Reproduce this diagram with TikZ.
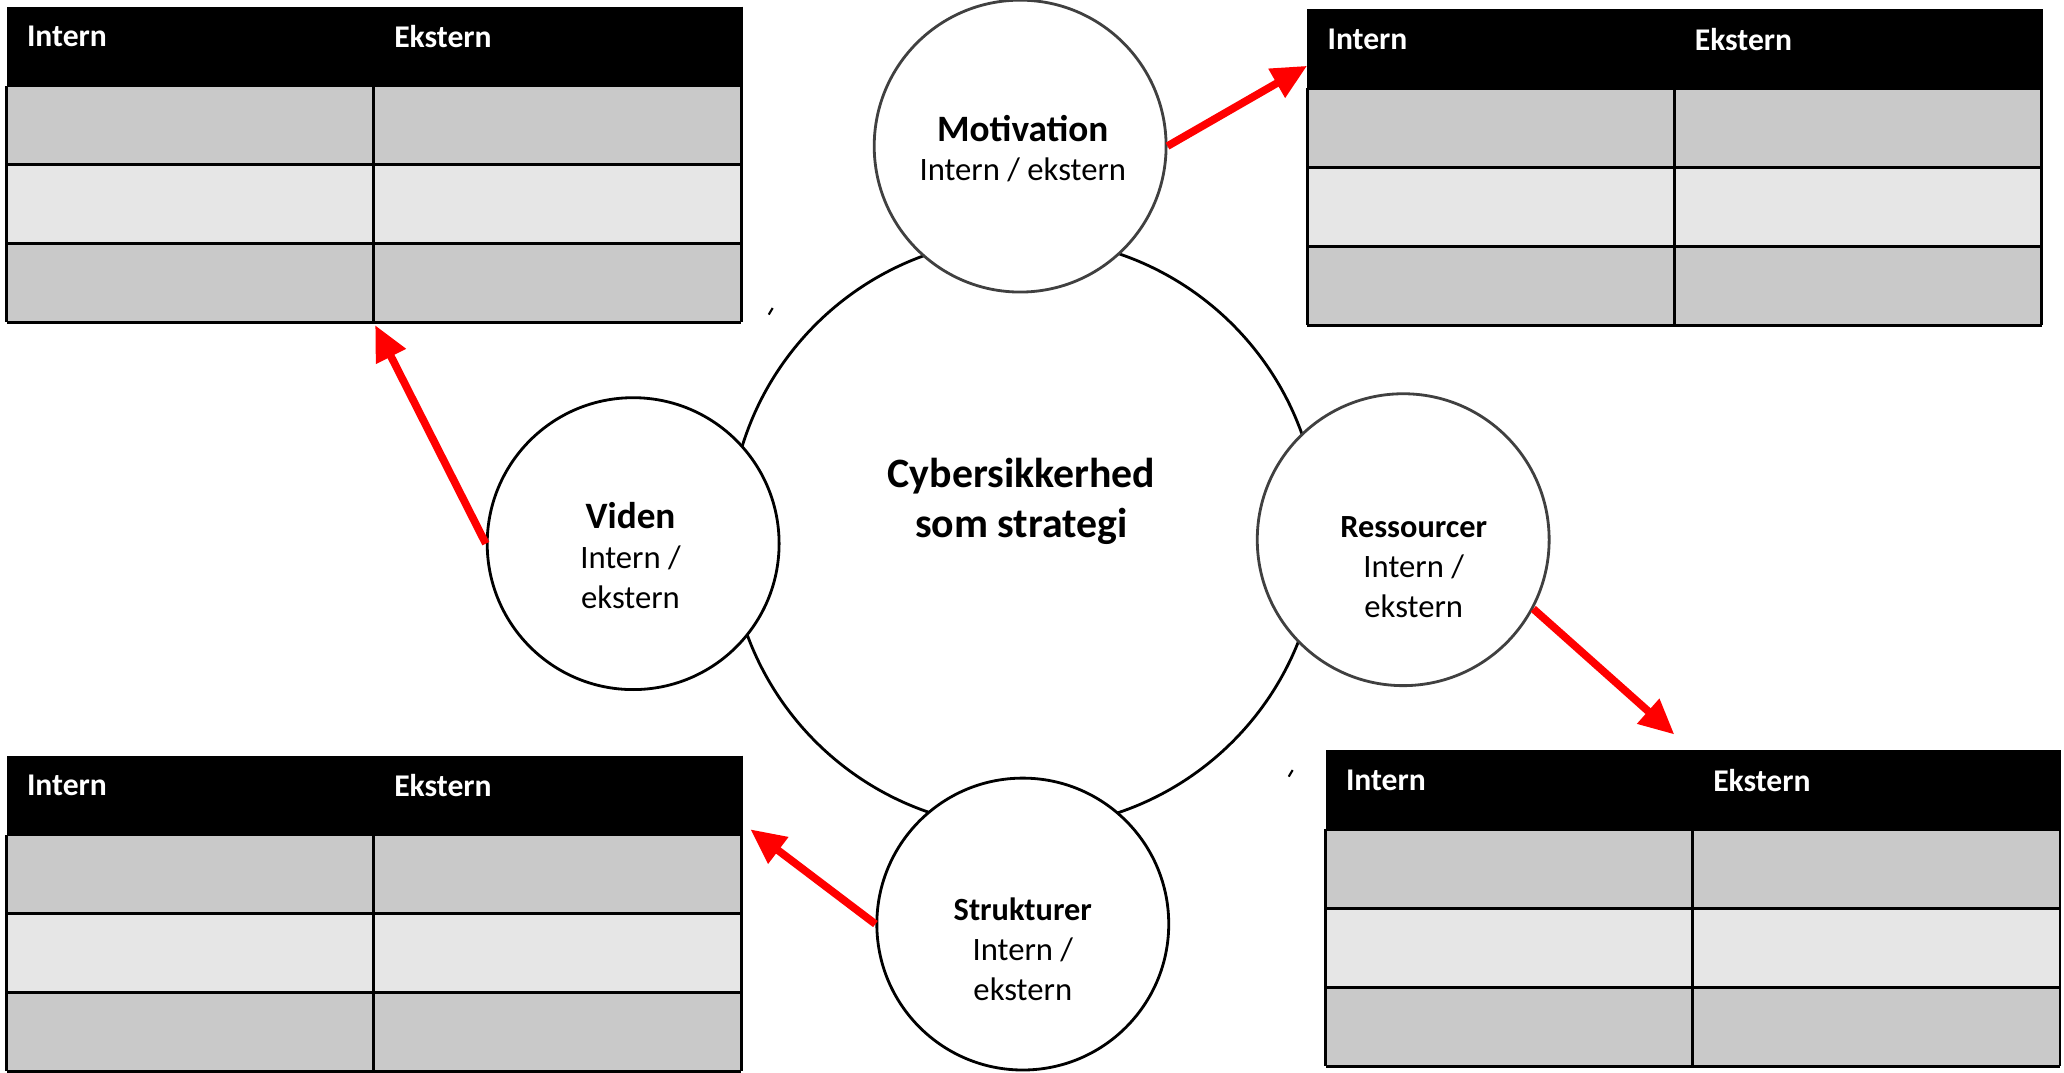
\documentclass[tikz,border=0pt]{standalone}
\usepackage{fontspec}
\setmainfont{Carlito}
\definecolor{rowdark}{RGB}{201, 201, 201}
\definecolor{rowlight}{RGB}{230, 230, 230}
\definecolor{ringgray}{RGB}{64, 64, 64}
\definecolor{arrowred}{RGB}{255, 0, 0}
\usetikzlibrary{arrows.meta, calc}

\begin{document}
\begin{tikzpicture}[x=0.013163cm, y=-0.013163cm,
  hub/.style={circle, draw, line width=0.8pt, minimum size=5.9cm, inner sep=0pt},
  factor/.style={circle, draw, fill=white, line width=0.8pt, minimum size=2.92cm, inner sep=0pt},
  circletext/.style={align=center, inner sep=0pt, font=\fontsize{9.3}{11.3}\selectfont},
  headtext/.style={anchor=west, inner sep=0pt, text=white, font=\fontsize{9}{11}\selectfont\bfseries},
  tablerule/.style={line width=0.8pt},
  link/.style={arrowred, line width=2.2pt, -{Triangle[length=10pt, width=9pt]}}]
  \useasboundingbox (0, 0) rectangle (1568, 815);

  % tables
  \foreach \tname/\tx/\ty in {tl/5/5, tr/993/7, bl/5/574, br/1007/570} {
    \coordinate (\tname) at (\tx, \ty);
    \fill (\tname) rectangle ++(558, 60);
    \fill[rowdark] ($(\tname)+(0, 60)$) rectangle ++(558, 60);
    \fill[rowlight] ($(\tname)+(0, 120)$) rectangle ++(558, 60);
    \fill[rowdark] ($(\tname)+(0, 180)$) rectangle ++(558, 60);
    \foreach \r in {60, 120, 180, 240}
      \draw[tablerule] ($(\tname)+(0, \r)$) -- ++(558, 0);
    \draw[tablerule] ($(\tname)+(0, 60)$) -- ++(0, 180);
    \draw[tablerule] ($(\tname)+(279, 60)$) -- ++(0, 180);
    \draw[tablerule] ($(\tname)+(558, 0)$) -- ++(0, 240);
    \node[headtext] (\tname-int) at ($(\tname)+(15, 23)$) {Intern};
    \node[headtext] (\tname-ext) at ($(\tname)+(294, 23)$) {Ekstern};
  }

  % centre
  \node[hub] (hub) at (778, 405) {};
  \node[circletext, font=\fontsize{11.9}{14.2}\selectfont\bfseries] (hub-txt) at (776, 381) {Cybersikkerhed\\som strategi};

  % factors
  \node[factor, draw=ringgray] (mot) at (775, 111) {};
  \node[circletext] (mot-txt) at (777, 113) {{\fontsize{10.6}{12}\selectfont\bfseries Motivation}\\Intern / ekstern};

  \node[factor] (viden) at (481, 413) {};
  \node[circletext] (viden-txt) at (479, 422) {{\fontsize{10.6}{12}\selectfont\bfseries Viden}\\Intern /\\ekstern};

  \node[factor, draw=ringgray] (res) at (1066, 410) {};
  \node[circletext] (res-txt) at (1074, 431) {{\fontsize{9.2}{11}\selectfont\bfseries Ressourcer}\\Intern /\\ekstern};

  \node[factor] (strk) at (777, 702) {};
  \node[circletext] (strk-txt) at (777, 721) {{\fontsize{9.2}{11}\selectfont\bfseries Strukturer}\\Intern /\\ekstern};

  % stray marks
  \draw[line width=0.6pt] (584, 239) -- (587, 234);
  \draw[line width=0.6pt] (979, 590) -- (982, 585);

  % arrows to tables
  \draw[link] (mot.east) -- ($(tr)+(0, 43)$);
  \draw[link] (viden.west) -- ($(tl)+(280, 242)$);
  \draw[link] (res.-28) -- ($(br)+(265, -12)$);
  \draw[link] (strk.west) -- ($(bl)+(565, 56)$);
\end{tikzpicture}
\end{document}
